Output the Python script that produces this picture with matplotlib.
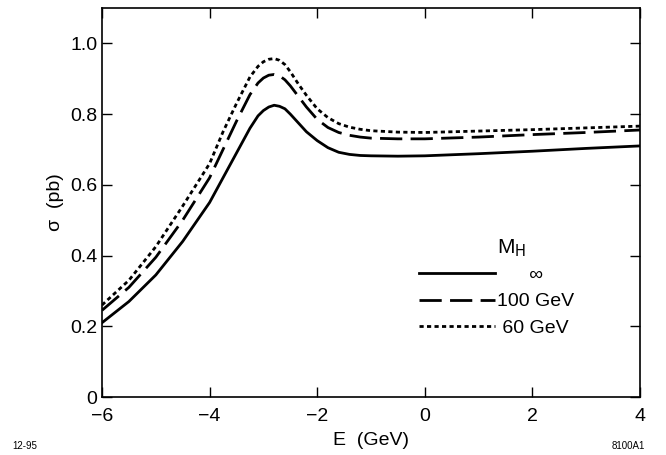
import numpy as np
import matplotlib.pyplot as plt

plt.rcParams['font.family'] = ['Liberation Sans', 'DejaVu Sans']

E = [-6, -5.5, -5, -4.5, -4, -3.75, -3.5, -3.25, -3.1, -3, -2.9, -2.8, -2.7, -2.6, -2.5, -2.35, -2.2, -2, -1.8, -1.6, -1.4, -1.2, -1, -0.5, 0, 1, 2, 3, 4]
sig_inf = [0.21, 0.27, 0.345, 0.44, 0.55, 0.62, 0.69, 0.76, 0.795, 0.81, 0.82, 0.825, 0.822, 0.815, 0.80, 0.775, 0.75, 0.725, 0.705, 0.692, 0.686, 0.683, 0.682, 0.681, 0.682, 0.688, 0.695, 0.703, 0.71]
sig_100 = [0.245, 0.31, 0.395, 0.50, 0.62, 0.70, 0.78, 0.855, 0.888, 0.902, 0.91, 0.912, 0.908, 0.897, 0.88, 0.85, 0.82, 0.785, 0.762, 0.748, 0.740, 0.735, 0.732, 0.73, 0.73, 0.735, 0.742, 0.748, 0.755]
sig_60 = [0.26, 0.33, 0.425, 0.54, 0.66, 0.75, 0.83, 0.905, 0.935, 0.948, 0.955, 0.957, 0.952, 0.94, 0.92, 0.885, 0.853, 0.815, 0.79, 0.773, 0.763, 0.757, 0.753, 0.749, 0.748, 0.752, 0.756, 0.761, 0.766]

fig = plt.figure(figsize=(6.66, 4.55), dpi=100)
ax = fig.add_axes([102/666, 1 - 397/455, 538/666, 389/455])

l1, = ax.plot(E, sig_inf, color='black', lw=2)
l2, = ax.plot(E, sig_100, color='black', lw=2, dashes=(8, 3))
l3, = ax.plot(E, sig_60, color='black', lw=2, dashes=(1.5, 1.2))

ax.set_xlim(-6, 4)
ax.set_ylim(0, 1.1)
ax.set_xticks([-6, -4, -2, 0, 2, 4])
ax.set_xticklabels(['\u22126', '\u22124', '\u22122', '0', '2', '4'])
ax.set_yticks([0, 0.2, 0.4, 0.6, 0.8, 1.0])
ax.set_yticklabels(['0', '0.2', '0.4', '0.6', '0.8', '1.0'])
ax.tick_params(direction='in', top=True, right=True, length=7, labelsize=14, width=1)
ax.tick_params(axis='x', pad=8)
for s in ax.spines.values():
    s.set_linewidth(1.2)
ax.set_xlabel('E  (GeV)', fontsize=14, labelpad=5)
ax.set_ylabel('\u03c3  (pb)', fontsize=14)

leg = ax.legend([l1, l2, l3], ['      \u221e', '100 GeV', ' 60 GeV'], loc='lower right',
                bbox_to_anchor=(0.895, 0.13), frameon=False, fontsize=14,
                handlelength=3.9, handletextpad=0.1, labelspacing=0.45, borderpad=0)
ax.text(0.735, 0.37, 'M$_\\mathrm{H}$', transform=ax.transAxes, fontsize=15)

fig.text(12/666, 1 - 449/455, '12-95', fontsize=7)
fig.text(612/666, 1 - 449/455, '8100A1', fontsize=7)

fig.savefig('out.png', dpi=100)
